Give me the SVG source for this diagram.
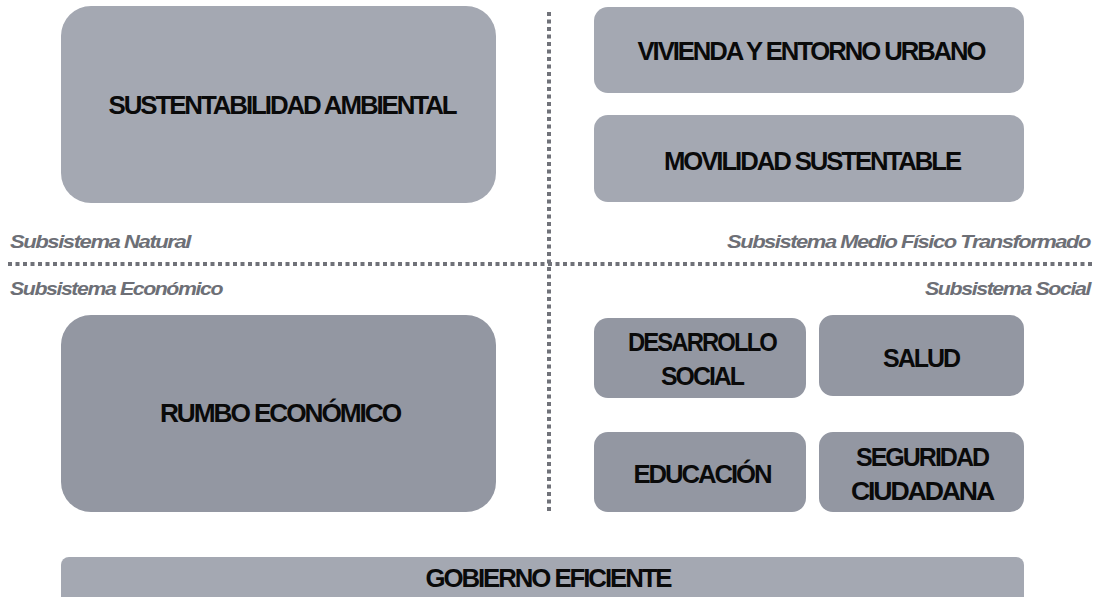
<svg xmlns="http://www.w3.org/2000/svg" width="1096" height="597" viewBox="0 0 1096 597">
<style>
.bl{fill:#a4a8b2}
.bd{fill:#9397a2}
.t{font-family:"Liberation Sans",Arial,sans-serif;font-weight:bold;font-size:25px;fill:#0a0a0a;text-anchor:middle;letter-spacing:-2px}
.s{font-family:"Liberation Sans",Arial,sans-serif;font-weight:bold;font-style:italic;font-size:18px;fill:#6d6f76;letter-spacing:-1.2px}
.d{stroke:#707279;stroke-width:4;stroke-dasharray:4 3.5;fill:none}
</style>
<rect width="1096" height="597" fill="#ffffff"/>
<g id="connectors">
<line class="d" x1="549" y1="12" x2="549" y2="512"/>
<line class="d" x1="8" y1="264" x2="1092" y2="264"/>
</g>
<g id="labels">
<text class="s" x="10" y="248" textLength="180" lengthAdjust="spacingAndGlyphs">Subsistema Natural</text>
<text class="s" x="10" y="295" textLength="212" lengthAdjust="spacingAndGlyphs">Subsistema Económico</text>
<text class="s" x="727" y="248" textLength="363" lengthAdjust="spacingAndGlyphs">Subsistema Medio Físico Transformado</text>
<text class="s" x="925" y="295" textLength="165" lengthAdjust="spacingAndGlyphs">Subsistema Social</text>
</g>
<g id="sustentabilidad">
<rect class="bl" x="61" y="6" width="435" height="197" rx="30"/>
<text class="t" x="282" y="114" textLength="347" lengthAdjust="spacingAndGlyphs">SUSTENTABILIDAD AMBIENTAL</text>
</g>
<g id="vivienda">
<rect class="bl" x="594" y="7" width="430" height="86" rx="14"/>
<text class="t" x="811" y="60" textLength="347" lengthAdjust="spacingAndGlyphs">VIVIENDA Y ENTORNO URBANO</text>
</g>
<g id="movilidad">
<rect class="bl" x="594" y="115" width="430" height="87" rx="14"/>
<text class="t" x="812" y="170" textLength="296" lengthAdjust="spacingAndGlyphs">MOVILIDAD SUSTENTABLE</text>
</g>
<g id="rumbo">
<rect class="bd" x="61" y="315" width="435" height="197" rx="30"/>
<text class="t" x="280" y="422" textLength="240" lengthAdjust="spacingAndGlyphs">RUMBO ECONÓMICO</text>
</g>
<g id="desarrollo">
<rect class="bd" x="594" y="318" width="212" height="80" rx="14"/>
<text class="t" x="702" y="351" textLength="148" lengthAdjust="spacingAndGlyphs">DESARROLLO</text>
<text class="t" x="702" y="385" textLength="82" lengthAdjust="spacingAndGlyphs">SOCIAL</text>
</g>
<g id="salud">
<rect class="bd" x="819" y="315" width="205" height="81" rx="14"/>
<text class="t" x="921" y="367" textLength="76" lengthAdjust="spacingAndGlyphs">SALUD</text>
</g>
<g id="educacion">
<rect class="bd" x="594" y="432" width="212" height="80" rx="14"/>
<text class="t" x="702" y="483" textLength="137" lengthAdjust="spacingAndGlyphs">EDUCACIÓN</text>
</g>
<g id="seguridad">
<rect class="bd" x="819" y="432" width="205" height="80" rx="14"/>
<text class="t" x="922" y="466" textLength="132" lengthAdjust="spacingAndGlyphs">SEGURIDAD</text>
<text class="t" x="922" y="500" textLength="142" lengthAdjust="spacingAndGlyphs">CIUDADANA</text>
</g>
<g id="gobierno">
<rect class="bl" x="61" y="557" width="963" height="48" rx="8"/>
<text class="t" x="548" y="587" textLength="245" lengthAdjust="spacingAndGlyphs">GOBIERNO EFICIENTE</text>
</g>
</svg>
